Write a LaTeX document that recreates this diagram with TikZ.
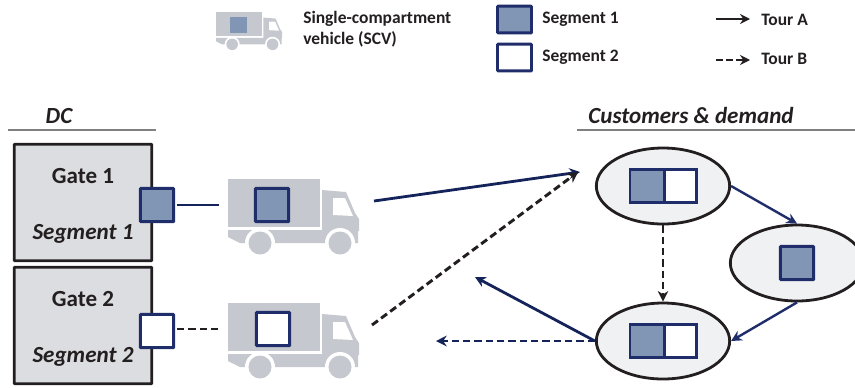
\documentclass[tikz,border=0pt]{standalone}
\usepackage{fontspec}
\setmainfont{Carlito}
\usetikzlibrary{arrows.meta,shapes.geometric}
\definecolor{segblue}{HTML}{8096B4}
\definecolor{segedge}{HTML}{1F2D6B}
\definecolor{gatefill}{HTML}{DCDDE0}
\definecolor{custfill}{HTML}{F0F1F3}
\definecolor{truckgray}{HTML}{C5C8CE}
\definecolor{navyline}{HTML}{14245A}
\definecolor{inkdark}{HTML}{231F20}
\tikzset{
  x=0.75pt,y=-0.75pt,
  lbl/.style={font=\bfseries\fontsize{13.1}{16}\selectfont,text=inkdark,inner sep=0pt},
  lblit/.style={font=\bfseries\itshape\fontsize{17.3}{20}\selectfont,text=inkdark,inner sep=0pt},
  gatelbl/.style={font=\bfseries\fontsize{17.3}{20}\selectfont,text=inkdark,inner sep=0pt},
  gatebox/.style={draw=inkdark,line width=2.1pt,fill=gatefill,minimum width=103pt,minimum height=87.5pt,inner sep=0pt,rounded corners=0.5pt},
  sq/.style={draw=segedge,line width=2.2pt,minimum width=25pt,minimum height=25pt,inner sep=0pt,rounded corners=0.5pt},
  sqone/.style={sq,fill=segblue},
  sqtwo/.style={sq,fill=white},
  half/.style={draw=segedge,line width=2.2pt,minimum width=25pt,minimum height=25pt,inner sep=0pt},
  cust/.style={ellipse,draw=inkdark,line width=2.1pt,fill=custfill,minimum width=100pt,minimum height=57pt,inner sep=0pt},
  rule/.style={draw=gray,line width=0.8pt},
  tipA/.style={-{Stealth[length=8pt,width=8pt]}},
  tourAmain/.style={tipA,draw=navyline,line width=2.1pt},
  tourAcust/.style={tipA,draw=segedge,line width=1.8pt},
  tourB/.style={tipA,draw=inkdark,line width=2.2pt,dash pattern=on 5.5pt off 3pt},
  tourBnavy/.style={tipA,draw=navyline,line width=2.2pt,dash pattern=on 5.5pt off 3pt},
  truck/.pic={
    \fill[truckgray] (0,0) rectangle (92,48);
    \fill[truckgray] (0,51) -- (130,51) -- (130,64) -- (12,64) -- (0,58) -- cycle;
    \fill[truckgray] (94,11) -- (118,13) -- (127,34) -- (131,40) -- (131,52) -- (94,52) -- cycle;
    \fill[white] (105,19) -- (117,19) -- (125,37) -- (105,36) -- cycle;
    \fill[white] (32,64) circle (15);
    \fill[white] (112,64) circle (15);
    \fill[truckgray] (32,64) circle (11.5);
    \fill[truckgray] (112,64) circle (11.5);
  }
}
\begin{document}
\begin{tikzpicture}
\path[use as bounding box] (0,0) rectangle (855,387);
% legend
\pic[scale=0.505] at (216,12) {truck};
\fill[segblue] (230,17) rectangle (247,33);
\node[lbl,anchor=west,align=left] (scvlabel) at (303,29) {Single-compartment\\vehicle (SCV)};
\node[sqone,minimum height=20pt,minimum width=25.5pt] (legone) at (514.5,19.5) {};
\node[sqtwo,minimum height=20pt,minimum width=25.5pt] (legtwo) at (514.5,57.5) {};
\node[lbl,anchor=west] (legonet) at (542,19.5) {Segment 1};
\node[lbl,anchor=west] (legtwot) at (542,57.5) {Segment 2};
\coordinate (tas) at (716,19); \coordinate (tae) at (750,19);
\coordinate (tbs) at (716,60); \coordinate (tbe) at (750,60);
\draw[-{Stealth[length=7.5pt,width=7.5pt]},draw=inkdark,line width=2pt] (tas) -- (tae);
\draw[-{Stealth[length=7.5pt,width=7.5pt]},draw=inkdark,line width=2pt,dash pattern=on 5pt off 2.5pt] (tbs) -- (tbe);
\node[lbl,anchor=west] (touratext) at (761,19.5) {Tour A};
\node[lbl,anchor=west] (tourbtext) at (761,59) {Tour B};
% headings
\node[lblit] (dclabel) at (59,116.5) {DC};
\node[lblit] (custlabel) at (691,115.5) {Customers \& demand};
\coordinate (r1a) at (8,130); \coordinate (r1b) at (156,130);
\coordinate (r2a) at (577,130); \coordinate (r2b) at (855,130);
\draw[rule] (r1a) -- (r1b);
\draw[rule] (r2a) -- (r2b);
% gates
\node[gatebox] (gate1) at (83,202.5) {};
\node[gatebox] (gate2) at (83,325.5) {};
\node[gatelbl] (gate1t) at (83,176) {Gate 1};
\node[gatelbl] (gate2t) at (83,299) {Gate 2};
\node[lblit] (seg1t) at (83,234) {Segment 1};
\node[lblit] (seg2t) at (83,357) {Segment 2};
\node[sqone] (g1sq) at (157,205) {};
\node[sqtwo] (g2sq) at (157,331) {};
% trucks
\pic at (228,179) {truck};
\pic at (228,303) {truck};
\node[sqone] (t1sq) at (272,205) {};
\node[sqtwo] (t2sq) at (273,329) {};
\coordinate (t1in) at (219,205);
\coordinate (t2in) at (219,329);
\draw[draw=navyline,line width=2.1pt] (g1sq.east) ++(2,0) -- (t1in);
\draw[draw=inkdark,line width=2.2pt,dash pattern=on 5.5pt off 3pt] (g2sq.east) ++(2,-2) -- (t2in);
% customers
\node[cust] (c1) at (663,186) {};
\node[cust] (c2) at (797,263) {};
\node[cust] (c3) at (663,341) {};
\node[half,fill=segblue,minimum width=25.5pt] (c1a) at (647,186) {};
\node[half,fill=white,minimum width=24.5pt] (c1b) at (680.5,186) {};
\node[sqone] (c2sq) at (797,263) {};
\node[half,fill=segblue,minimum width=25.5pt] (c3a) at (647,341) {};
\node[half,fill=white,minimum width=24.5pt] (c3b) at (680.5,341) {};
% tours
\coordinate (t1out) at (374,201);
\coordinate (t2out) at (372,325);
\coordinate (target1) at (580,172);
\coordinate (target2) at (578,172);
\coordinate (ret1) at (475,277);
\coordinate (ret2) at (436,341);
\draw[tourAmain] (t1out) -- (target1);
\draw[tourB] (t2out) -- (target2);
\draw[tourAcust] (c1.east) -- (c2.north);
\draw[tourAcust] (c2.south) -- (c3.east);
\draw[tourB] (c1.south) -- (c3.north);
\draw[tourAmain] (c3.west) -- (ret1);
\draw[tourBnavy] (c3.west) -- (ret2);
\end{tikzpicture}
\end{document}
